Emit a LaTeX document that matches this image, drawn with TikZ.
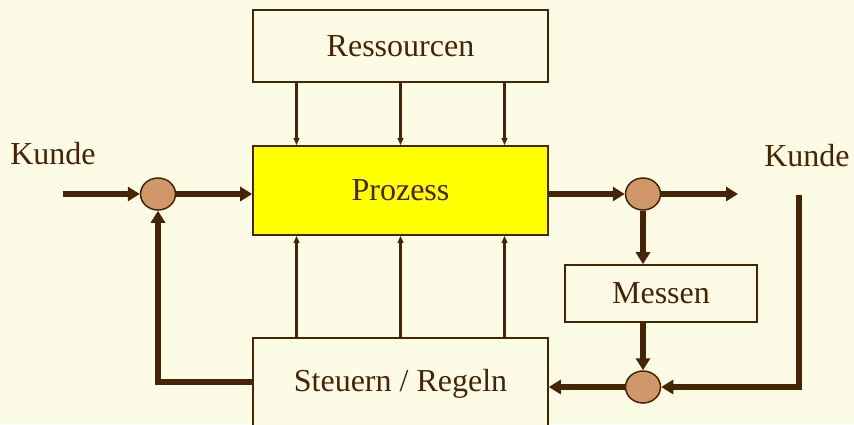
\documentclass[tikz,border=0pt]{standalone}
\usepackage{fontspec}
\setmainfont{Liberation Serif}
\usetikzlibrary{arrows.meta,shapes.geometric,calc}
\definecolor{bg}{RGB}{251,251,230}
\definecolor{brn}{RGB}{70,36,4}
\definecolor{ball}{RGB}{208,152,104}
\definecolor{yel}{RGB}{255,255,0}
\tikzset{
  box/.style={draw=brn,line width=1.6pt,fill=bg,text=brn,inner sep=0pt,
    font=\fontsize{32}{38}\selectfont},
  ball/.style={ellipse,draw=brn,line width=1.5pt,fill=ball,minimum width=35pt,minimum height=32pt,inner sep=0pt},
  thick arrow/.style={draw=brn,line width=5.5pt,-{Triangle[length=12pt,width=14pt]}},
  thin arrow/.style={draw=brn,line width=2.2pt,-{Triangle[length=7pt,width=5.5pt]}},
  lbl/.style={text=brn,font=\fontsize{32}{38}\selectfont,inner sep=0pt}
}
\begin{document}
\begin{tikzpicture}[x=1pt,y=-1pt]
\clip (0,0) rectangle (854,424);
\fill[bg] (0,0) rectangle (854,424);
\useasboundingbox (0,0) rectangle (854,424);
% boxes
\node[box,minimum width=295pt,minimum height=72pt] (Res) at (400.5,46) {Ressourcen};
\node[box,fill=yel,minimum width=295pt,minimum height=89pt] (P) at (400.5,190.5) {Prozess};
\node[box,minimum width=295pt,minimum height=92pt] (S) at (400.5,384) {Steuern / Regeln};
\node[box,minimum width=192pt,minimum height=57pt] (M) at (661,293.5) {Messen};
% balls
\node[ball] (L) at (158,194) {};
\node[ball] (R) at (643,194) {};
\node[ball] (B) at (643,387) {};
% labels
\node[lbl] (K1) at (53,154) {Kunde};
\node[lbl] (K2) at (807,156) {Kunde};
% coordinates
\coordinate (in) at (63,194);
\coordinate (out) at (738,194);
\coordinate (kin) at (799,195);
% thin arrows
\foreach \dx in {-104,0,104}{
  \draw[thin arrow] ([xshift=\dx]Res.south) -- ([xshift=\dx]P.north);
  \draw[thin arrow] ([xshift=\dx]S.north) -- ([xshift=\dx]P.south);
}
% thick arrows
\draw[thick arrow] (in) -- (L.west);
\draw[thick arrow] (L.east) -- (L.east -| P.west);
\draw[thick arrow] (R.west -| P.east) -- (R.west);
\draw[thick arrow] (R.east) -- (out);
\draw[thick arrow] (R.south) -- (R.south |- M.north);
\draw[thick arrow] (B.north |- M.south) -- (B.north);
\draw[thick arrow] (kin) |- (B.east);
\draw[thick arrow] (B.west) -- (B.west -| S.east);
\draw[thick arrow] ([yshift=2]S.west) -| (L.south);
\end{tikzpicture}
\end{document}
